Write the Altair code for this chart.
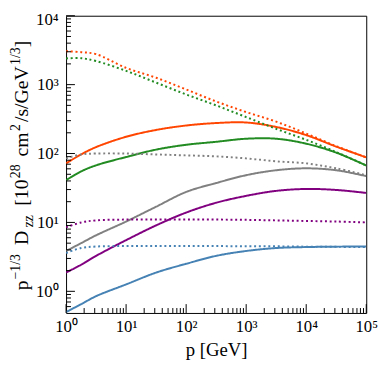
import altair as alt
import pandas as pd

# momentum grid [GeV]
p_vals = [1, 1.78, 3.16, 10, 31.6, 100, 316, 1000, 3160, 10000, 31600, 100000]

# p^-1/3 D_zz values
orange_solid = [72, 97, 124, 175, 220, 255, 277, 282, 243, 185, 126, 88]
orange_dotted = [3060, 2960, 2770, 1750, 1260, 850, 570, 400, 290, 195, 128, 88]
green_solid = [41, 55, 67.4, 89, 114, 134, 148, 164, 164, 139, 103, 67]
green_dotted = [2400, 2420, 2200, 1585, 1070, 720, 500, 338, 228, 158, 105, 67]
gray_solid = [3.85, 5.0, 6.5, 10.3, 16.9, 27.7, 37.3, 48.5, 57.2, 61, 57.2, 47]
gray_dotted = [85, 97, 100, 100, 97, 94, 91, 85, 77, 72, 61, 48.5]
purple_solid = [1.87, 2.43, 3.27, 5.53, 9.06, 13.9, 19.3, 24.3, 28.7, 30.6, 29.6, 26.8]
purple_dotted = [8.5, 10.0, 10.7, 11.0, 11.0, 11.0, 11.0, 10.9, 10.7, 10.5, 10.3, 10.0]
blue_solid = [0.50, 0.65, 0.85, 1.26, 1.87, 2.51, 3.27, 3.85, 4.25, 4.39, 4.45, 4.47]
blue_dotted = [3.6, 4.25, 4.47, 4.54, 4.54, 4.54, 4.54, 4.5, 4.5, 4.45, 4.42, 4.4]

series_names = ["orange", "green", "gray", "purple", "blue"]
series_colors = ["#ff4500", "#228b22", "#808080", "#800080", "#4682b4"]

x_major = [1, 10, 100, 1000, 10000, 100000]
y_major = [1, 10, 100, 1000, 10000]
x_minor = [m * d for d in [1, 10, 100, 1000, 10000] for m in range(2, 10)]
y_minor = [m * d for d in [0.1, 1, 10, 100, 1000] for m in range(2, 10) if m * d > 0.5]

curves = [
    ("orange", "solid", orange_solid), ("orange", "dotted", orange_dotted),
    ("green", "solid", green_solid), ("green", "dotted", green_dotted),
    ("gray", "solid", gray_solid), ("gray", "dotted", gray_dotted),
    ("purple", "solid", purple_solid), ("purple", "dotted", purple_dotted),
    ("blue", "solid", blue_solid), ("blue", "dotted", blue_dotted),
]
rows = []
for name, style, ys in curves:
    for xv, yv in zip(p_vals, ys):
        rows.append({"p": xv, "D": yv, "series": name, "style": style, "key": name + style})
df = pd.DataFrame(rows)

W, H = 305, 302
FONT = "Liberation Serif"
xscale = alt.Scale(type="log", domain=[1, 100000], nice=False)
yscale = alt.Scale(type="log", domain=[0.485, 10000], nice=False)

lines = alt.Chart(df).mark_line(strokeWidth=2, clip=True, interpolate="catmull-rom").encode(
    x=alt.X("p:Q", scale=xscale, axis=alt.Axis(
        values=x_major, ticks=False, domain=False, grid=False, orient="bottom",
        labelExpr="'10' + ['⁰','¹','²','³','⁴','⁵'][round(log(datum.value)/LN10)]",
        labelFont=FONT, labelFontSize=17, labelColor="black", labelPadding=6,
        labelFlush=False,
        title="p [GeV]", titleFont=FONT, titleFontSize=19, titleFontWeight="normal",
        titleColor="black", titlePadding=6)),
    y=alt.Y("D:Q", scale=yscale, axis=alt.Axis(
        values=y_major, ticks=False, domain=False, grid=False, orient="left",
        labelExpr="'10' + ['⁰','¹','²','³','⁴'][round(log(datum.value)/LN10)]",
        labelFont=FONT, labelFontSize=17, labelColor="black", labelPadding=8,
        labelOffset={"condition": {"test": "datum.value >= 10000", "value": 4}, "value": 0},
        labelFlush=False, title=None)),
    color=alt.Color("series:N", scale=alt.Scale(domain=series_names, range=series_colors), legend=None),
    strokeDash=alt.StrokeDash("style:N", scale=alt.Scale(domain=["solid", "dotted"], range=[[1, 0], [2, 2.8]]), legend=None),
    detail="key:N",
)

def xticks(vals, length):
    return alt.Chart(pd.DataFrame({"p": vals})).mark_rule(color="black", strokeWidth=1).encode(
        x=alt.X("p:Q", scale=xscale, axis=None), y=alt.value(H), y2=alt.value(H - length))

def yticks(vals, length):
    return alt.Chart(pd.DataFrame({"D": vals})).mark_rule(color="black", strokeWidth=1).encode(
        y=alt.Y("D:Q", scale=yscale, axis=None), x=alt.value(0), x2=alt.value(length))

TOP = 13  # screen y of plot top
def piece(text, size, screen_y, dy=0):
    return alt.Chart(pd.DataFrame({"t": [text]})).mark_text(
        angle=270, align="left", baseline="alphabetic", font=FONT, fontSize=size,
        color="black", dy=dy).encode(text="t:N", x=alt.value(-39), y=alt.value(screen_y - TOP))

ytitle = alt.layer(
    piece("p", 20, 292),
    piece("−1/3", 14, 281, dy=-8),
    piece("D", 20, 246),
    piece("zz", 14, 228, dy=5),
    piece("[10", 20, 206),
    piece("28", 14, 178, dy=-8),
    piece("cm", 20, 156),
    piece("2", 14, 130, dy=-8),
    piece("/s/GeV", 20, 121),
    piece("1/3", 14, 63, dy=-8),
    piece("]", 20, 45),
)

chart = alt.layer(
    lines,
    xticks(x_major, 9), xticks(x_minor, 5),
    yticks(y_major, 9), yticks(y_minor, 5),
    ytitle,
).resolve_axis(x="independent", y="independent").properties(
    width=W, height=H,
    autosize=alt.AutoSizeParams(type="none"),
    padding={"left": 59, "top": 5, "right": 16, "bottom": 50},
).configure_view(stroke="black", strokeWidth=1)

chart.save("out.html", embed_options={"renderer": "svg", "actions": False})
